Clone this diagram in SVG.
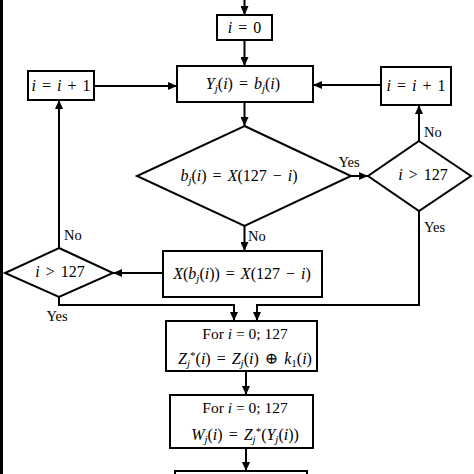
<svg xmlns="http://www.w3.org/2000/svg" width="474" height="474" viewBox="0 0 474 474">
<defs>
<marker id="ah" markerUnits="userSpaceOnUse" markerWidth="10" markerHeight="8" refX="9" refY="4" orient="auto">
<path d="M0,0 L9,4 L0,8 z" fill="#000"/>
</marker>
<style>
.box{fill:#fff;stroke:#000;stroke-width:2}
.dia{fill:#fff;stroke:#000;stroke-width:2;stroke-linejoin:miter}
.arr{fill:none;stroke:#000;stroke-width:2;marker-end:url(#ah)}
text{font-family:"Liberation Serif","DejaVu Serif",serif;font-size:15.5px;fill:#000}
.m{font-size:16px;word-spacing:2px}
.c{text-anchor:middle}
.lbl{font-size:14.5px}
.it{font-style:italic}
.sb{font-size:11px;font-style:italic}
.sn{font-size:11px}
</style>
</defs>
<rect x="0" y="0" width="3" height="474" fill="#000"/>
<g id="connectors">
<line class="arr" x1="244.5" y1="0" x2="244.5" y2="15"/>
<line class="arr" x1="244.5" y1="40" x2="244.5" y2="66"/>
<line class="arr" x1="94" y1="86" x2="177" y2="86"/>
<line class="arr" x1="381" y1="85" x2="313" y2="85"/>
<line class="arr" x1="244.5" y1="102" x2="244.5" y2="126"/>
<line class="arr" x1="351" y1="176" x2="368" y2="176"/>
<line class="arr" x1="419" y1="141" x2="419" y2="105"/>
<line class="arr" x1="244.5" y1="226" x2="244.5" y2="251"/>
<line class="arr" x1="163" y1="273" x2="113" y2="273"/>
<line class="arr" x1="59" y1="248" x2="59" y2="100"/>
<polyline class="arr" points="59,297 59,305 234,305 234,321"/>
<polyline class="arr" points="419,211 419,305 257,305 257,321"/>
<line class="arr" x1="246" y1="371" x2="246" y2="395"/>
<line class="arr" x1="246" y1="448" x2="246" y2="471"/>
<text class="lbl" x="424" y="137">No</text>
<text class="lbl c" x="349" y="167">Yes</text>
<text class="lbl" x="248" y="241">No</text>
<text class="lbl" x="64" y="240">No</text>
<text class="lbl c" x="57" y="321">Yes</text>
<text class="lbl" x="424" y="232">Yes</text>
</g>
<g id="n-init">
<rect class="box" x="217" y="15" width="55" height="25"/>
<text class="c m" x="244.5" y="33"><tspan class="it">i</tspan> = 0</text>
</g>
<g id="n-assign">
<rect class="box" x="177" y="66" width="136" height="36"/>
<text class="c m" x="243" y="89"><tspan class="it">Y</tspan><tspan class="sb" dy="3">j</tspan><tspan dy="-3">(</tspan><tspan class="it">i</tspan>) = <tspan class="it">b</tspan><tspan class="sb" dy="3">j</tspan><tspan dy="-3">(</tspan><tspan class="it">i</tspan>)</text>
</g>
<g id="n-incl">
<rect class="box" x="28" y="71" width="66" height="29"/>
<text class="c m" x="61" y="91"><tspan class="it">i</tspan> = <tspan class="it">i</tspan> + 1</text>
</g>
<g id="n-incr">
<rect class="box" x="381" y="67" width="70" height="38"/>
<text class="c m" x="416" y="91"><tspan class="it">i</tspan> = <tspan class="it">i</tspan> + 1</text>
</g>
<g id="n-test">
<polygon class="dia" points="244.5,126 351,176 244.5,226 137,176"/>
<text class="c m" x="239" y="181"><tspan class="it">b</tspan><tspan class="sb" dy="3">j</tspan><tspan dy="-3">(</tspan><tspan class="it">i</tspan>) = <tspan class="it">X</tspan>(127 − <tspan class="it">i</tspan>)</text>
</g>
<g id="n-dr">
<polygon class="dia" points="419,141 471,176 419,211 368,176"/>
<text class="c m" x="423" y="180"><tspan class="it">i</tspan> &gt; 127</text>
</g>
<g id="n-swap">
<rect class="box" x="163" y="251" width="159" height="46"/>
<text class="c m" x="242" y="279"><tspan class="it">X</tspan>(<tspan class="it">b</tspan><tspan class="sb" dy="3">j</tspan><tspan dy="-3">(</tspan><tspan class="it">i</tspan>)) = <tspan class="it">X</tspan>(127 − <tspan class="it">i</tspan>)</text>
</g>
<g id="n-dl">
<polygon class="dia" points="59,248 113,273 59,297 5,273"/>
<text class="c m" x="60" y="277"><tspan class="it">i</tspan> &gt; 127</text>
</g>
<g id="n-z">
<rect class="box" x="166" y="321" width="151" height="50"/>
<text class="c" x="245" y="339">For <tspan class="it">i</tspan> = 0; 127</text>
<text class="c m" x="245" y="364"><tspan class="it">Z</tspan><tspan class="sb" dy="3">j</tspan><tspan class="sn" dy="-8">*</tspan><tspan dy="5">(</tspan><tspan class="it">i</tspan>) = <tspan class="it">Z</tspan><tspan class="sb" dy="3">j</tspan><tspan dy="-3">(</tspan><tspan class="it">i</tspan>) ⊕ <tspan class="it">k</tspan><tspan class="sn" dy="3">1</tspan><tspan dy="-3">(</tspan><tspan class="it">i</tspan>)</text>
</g>
<g id="n-w">
<rect class="box" x="170" y="395" width="143" height="53"/>
<text class="c" x="245" y="413">For <tspan class="it">i</tspan> = 0; 127</text>
<text class="c m" x="245" y="440"><tspan class="it">W</tspan><tspan class="sb" dy="3">j</tspan><tspan dy="-3">(</tspan><tspan class="it">i</tspan>) = <tspan class="it">Z</tspan><tspan class="sb" dy="3">j</tspan><tspan class="sn" dy="-8">*</tspan><tspan dy="5">(</tspan><tspan class="it">Y</tspan><tspan class="sb" dy="3">j</tspan><tspan dy="-3">(</tspan><tspan class="it">i</tspan>))</text>
</g>
<g id="n-next">
<rect class="box" x="175" y="471" width="132" height="12"/>
</g>
</svg>
